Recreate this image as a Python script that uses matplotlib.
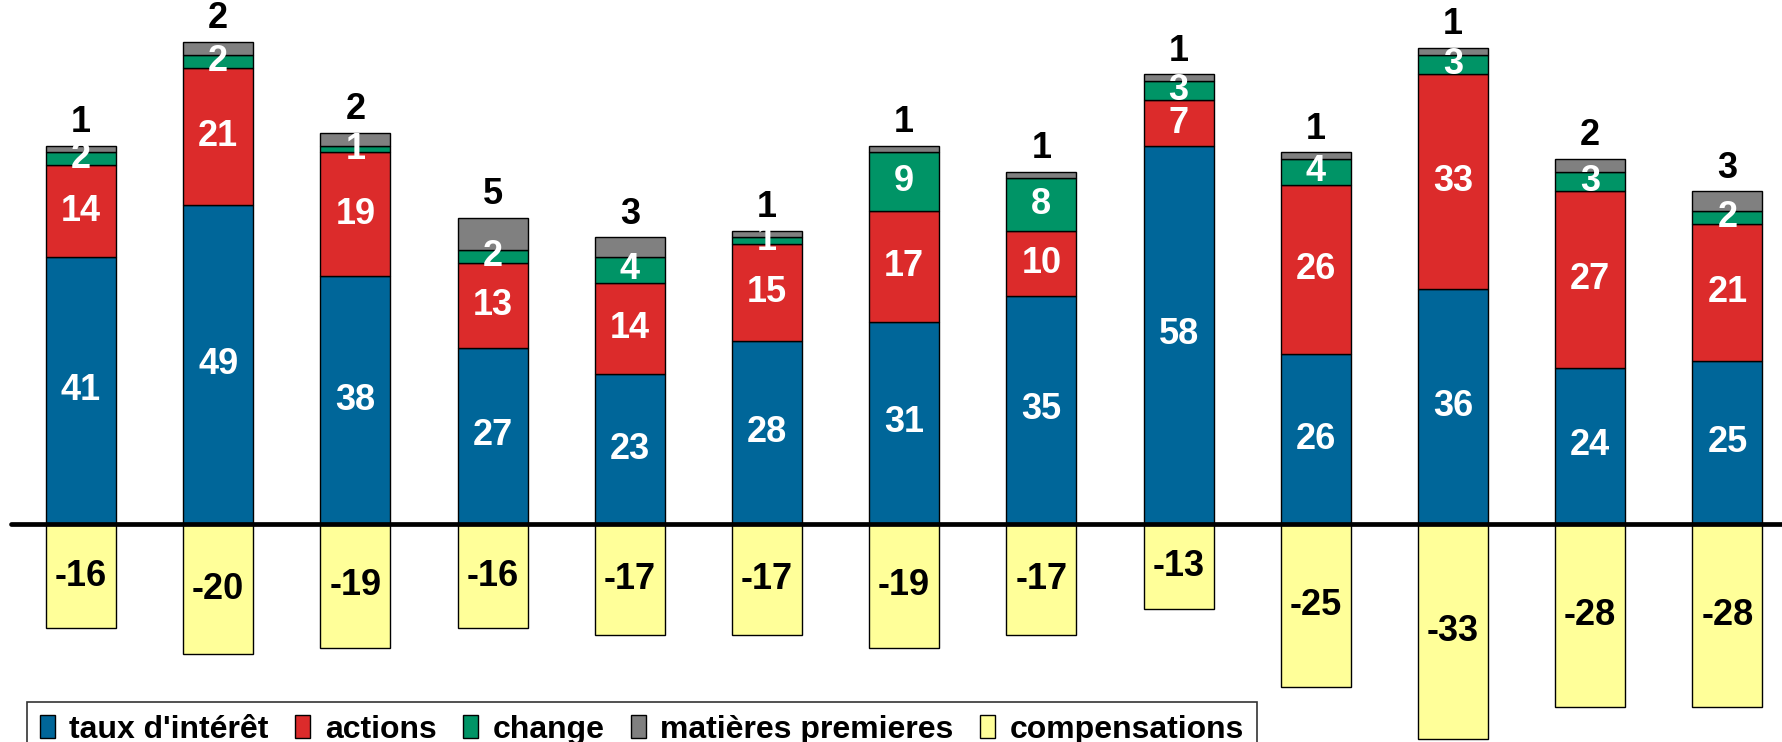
import matplotlib
matplotlib.use("Agg")
import matplotlib.pyplot as plt
import numpy as np

plt.rcParams['font.family'] = ['Liberation Sans', 'DejaVu Sans']
plt.rcParams['font.weight'] = 'bold'

# values per bar (13 bars)
taux = [41, 49, 38, 27, 23, 28, 31, 35, 58, 26, 36, 24, 25]
actions = [14, 21, 19, 13, 14, 15, 17, 10, 7, 26, 33, 27, 21]
change = [2, 2, 1, 2, 4, 1, 9, 8, 3, 4, 3, 3, 2]
matieres = [1, 2, 2, 5, 3, 1, 1, 1, 1, 1, 1, 2, 3]
compensations = [-16, -20, -19, -16, -17, -17, -19, -17, -13, -25, -33, -28, -28]

labels = ["taux d'intérêt", "actions", "change", "matières premieres", "compensations"]
colors = ["#006699", "#DC2B2B", "#009466", "#808080", "#FFFF99"]

fig = plt.figure(figsize=(17.82, 7.42), dpi=100)
ax = fig.add_axes([0, 0, 1, 1])

x = np.arange(len(taux))
w = 0.51
ekw = dict(edgecolor="black", linewidth=1.0, width=w)

stack = [taux, actions, change, matieres]
bottom = np.zeros(len(x))
conts = []
for vals, lab, col in zip(stack, labels[:4], colors[:4]):
    c = ax.bar(x, vals, bottom=bottom, color=col, label=lab, **ekw)
    conts.append(c)
    bottom = bottom + np.array(vals)
cc = ax.bar(x, compensations, color=colors[4], label=labels[4], **ekw)

# labels
for c in conts[:3]:
    ax.bar_label(c, label_type='center', color='white', fontsize=26, fontweight='bold')
# commodity values sit on top of the stack
ax.bar_label(conts[3], labels=[str(v) for v in matieres], label_type='edge', padding=4,
             color='black', fontsize=26, fontweight='bold')
ax.bar_label(cc, label_type='center', color='black', fontsize=26, fontweight='bold')

ax.plot([-0.51, 12.6], [0, 0], color='black', linewidth=3.4, solid_capstyle='round', zorder=5)

ax.set_xlim(-0.59, 12.398)
ax.set_ylim(-33.44, 80.37)
ax.axis('off')

leg = fig.legend(loc='upper left', bbox_to_anchor=(27 / 1782, 1 - 702 / 742), ncol=5,
                 fontsize=23, frameon=True, fancybox=False, edgecolor='black',
                 handlelength=0.48, handleheight=0.7, handletextpad=0.45,
                 columnspacing=0.82, borderpad=0.4, borderaxespad=0)
leg.get_frame().set_linewidth(1.2)

fig.savefig("out.png", dpi=100)
